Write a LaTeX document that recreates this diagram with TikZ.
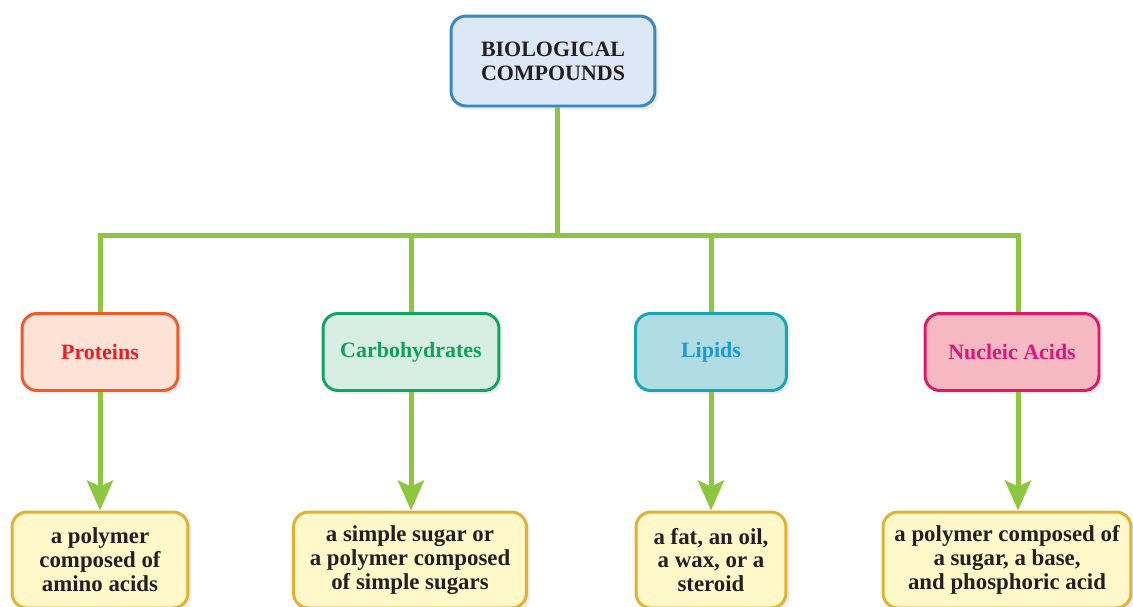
\documentclass[tikz,border=0pt]{standalone}
\usepackage{fontspec}
\setmainfont{Liberation Serif}
\usepackage{tikz}
\usetikzlibrary{arrows.meta,shadows}
\usepackage{xcolor}

\definecolor{leaf}{HTML}{8DC63F}
\definecolor{ink}{HTML}{231F20}
\definecolor{topfill}{HTML}{DCE8F5}
\definecolor{topline}{HTML}{3A87C8}
\definecolor{protfill}{HTML}{FDE3D5}
\definecolor{protline}{HTML}{F15A29}
\definecolor{prottext}{HTML}{ED1C24}
\definecolor{carbfill}{HTML}{D7EEE3}
\definecolor{carbline}{HTML}{13A463}
\definecolor{carbtext}{HTML}{12A15A}
\definecolor{lipfill}{HTML}{B0DDE4}
\definecolor{lipline}{HTML}{1AA5B5}
\definecolor{liptext}{HTML}{1C9AD6}
\definecolor{nucfill}{HTML}{F6B8C1}
\definecolor{nucline}{HTML}{E2176C}
\definecolor{nuctext}{HTML}{D9187A}
\definecolor{deffill}{HTML}{FFF9CA}
\definecolor{defline}{HTML}{E0B133}

\begin{document}
\begin{tikzpicture}[x=0.02cm,y=-0.02cm,>={Stealth[length=0.6cm,width=0.52cm,inset=0.12cm]},
  box/.style={rounded corners=0.3cm,line width=1.7pt,align=center,text=ink,
    font=\bfseries\fontsize{12.5}{13.6}\selectfont,
    drop shadow={opacity=0.15,shadow xshift=2pt,shadow yshift=-2pt}},
  groupbox/.style={box,minimum height=1.54cm},
  defbox/.style={box,draw=defline,fill=deffill,minimum height=1.92cm,
    font=\bfseries\fontsize{13}{13.6}\selectfont},
  link/.style={line width=0.1cm,leaf}]
\clip (0,0) rectangle (1133,606);

% top of the tree
\node[box,draw=topline,fill=topfill,minimum width=4.08cm,minimum height=1.8cm] (bio) at (553,61) {BIOLOGICAL\\COMPOUNDS};

% the four groups
\node[groupbox,draw=protline,fill=protfill,text=prottext,minimum width=3.12cm] (prot) at (100,352) {Proteins};
\node[groupbox,draw=carbline,fill=carbfill,text=carbtext,minimum width=3.52cm] (carb) at (411,352) {Carbohydrates};
\node[groupbox,draw=lipline,fill=lipfill,text=liptext,minimum width=3.02cm] (lip) at (711,352) {Lipids};
\node[groupbox,draw=nucline,fill=nucfill,text=nuctext,minimum width=3.48cm] (nuc) at (1012,352) {Nucleic Acids};

% what each group is
\node[defbox,minimum width=3.52cm] (protdef) at (100,560) {a polymer\\composed of\\amino acids};
\node[defbox,minimum width=4.66cm] (carbdef) at (410,560) {a simple sugar or\\a polymer composed\\of simple sugars};
\node[defbox,minimum width=3.0cm] (lipdef) at (711,560) {a fat, an oil,\\a wax, or a\\steroid};
\node[defbox,minimum width=4.96cm] (nucdef) at (1007,560) {a polymer composed of\\a sugar, a base,\\and phosphoric acid};

% branch points on the bar
\coordinate (hub) at (557,235);
\coordinate (c1) at (100,235);
\coordinate (c2) at (411,235);
\coordinate (c3) at (711,235);
\coordinate (c4) at (1018,235);

% green tree
\draw[link] (bio.south -| hub) -- (hub);
\draw[link] (c1 |- prot.north) -- (c1) -- (c4) -- (c4 |- nuc.north);
\draw[link] (c2) -- (c2 |- carb.north);
\draw[link] (c3) -- (c3 |- lip.north);

% arrows down to the definitions
\draw[link,->] (c1 |- prot.south) -- (c1 |- protdef.north);
\draw[link,->] (c2 |- carb.south) -- (c2 |- carbdef.north);
\draw[link,->] (c3 |- lip.south) -- (c3 |- lipdef.north);
\draw[link,->] (c4 |- nuc.south) -- (c4 |- nucdef.north);
\end{tikzpicture}
\end{document}
